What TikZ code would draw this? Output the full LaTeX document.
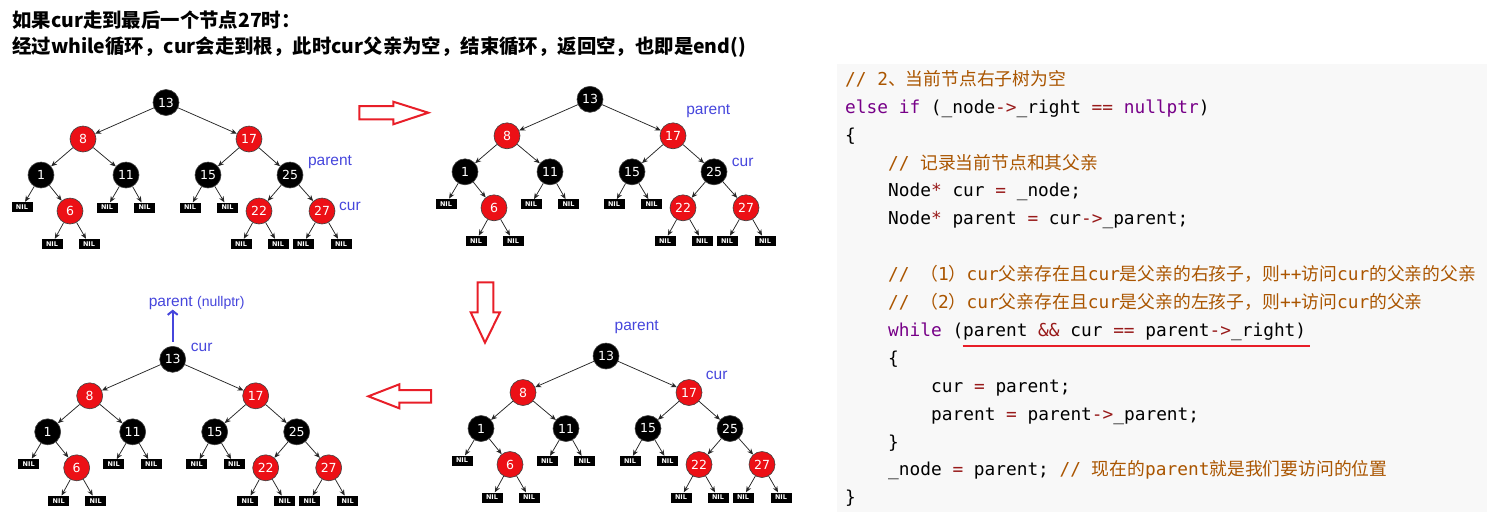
\documentclass[tikz,border=0pt]{standalone}
\usepackage{fontspec}
\usepackage{xcolor}
\usepackage{tikz}
\usetikzlibrary{arrows.meta, positioning}
\setmainfont{DejaVu Sans}
\newfontfamily\cjk{Noto Sans CJK SC}
\newfontfamily\codefont{DejaVu Sans Mono}
\newfontfamily\labfont{Liberation Sans}
\definecolor{rbred}{RGB}{236, 16, 22}
\definecolor{hintblue}{RGB}{70, 70, 220}
\definecolor{arrred}{RGB}{232, 30, 40}
\definecolor{codebg}{RGB}{248, 248, 248}
\definecolor{cmtc}{RGB}{170, 85, 0}
\definecolor{kwc}{RGB}{119, 0, 136}
\definecolor{opc}{RGB}{152, 26, 26}
\newcommand{\zh}[1]{{\cjk #1}}
\newcommand{\kw}[1]{\textcolor{kwc}{#1}}
\newcommand{\op}[1]{\textcolor{opc}{#1}}
\newcommand{\cm}[1]{\textcolor{cmtc}{#1}}

% one red-black tree, root at (#2,#3), node names prefixed by #1
\newcommand{\rbtree}[3]{%
  \begin{scope}[shift={(#2,#3)}]
    \node[bnode]  (#1n13) at (0,0)          {13};
    \node[rnode]  (#1n8)  at (-83,36.5)     {8};
    \node[rnode]  (#1n17) at (83,36.5)      {17};
    \node[bnode]  (#1n1)  at (-125,72.5)    {1};
    \node[bnode]  (#1n11) at (-40,72.5)     {11};
    \node[bnode]  (#1n15) at (42,72.5)      {15};
    \node[bnode]  (#1n25) at (124,72.5)     {25};
    \node[nilbox] (#1l1)  at (-144,104.5)   {NIL};
    \node[rnode]  (#1n6)  at (-96,108.5)    {6};
    \node[nilbox] (#1l11) at (-59,105)      {NIL};
    \node[nilbox] (#1r11) at (-21.5,105)    {NIL};
    \node[nilbox] (#1l15) at (24,105)       {NIL};
    \node[nilbox] (#1r15) at (61.5,105)     {NIL};
    \node[rnode]  (#1n22) at (93,108.5)     {22};
    \node[rnode]  (#1n27) at (156,108.5)    {27};
    \node[nilbox] (#1l6)  at (-114,141.5)   {NIL};
    \node[nilbox] (#1r6)  at (-77,141.5)    {NIL};
    \node[nilbox] (#1l22) at (75,141.5)     {NIL};
    \node[nilbox] (#1r22) at (112,141.5)    {NIL};
    \node[nilbox] (#1l27) at (137,141.5)    {NIL};
    \node[nilbox] (#1r27) at (175,141.5)    {NIL};
    \foreach \p/\c in {n13/n8, n13/n17, n8/n1, n8/n11, n17/n15, n17/n25,
        n1/l1, n1/n6, n11/l11, n11/r11, n15/l15, n15/r15, n25/n22, n25/n27,
        n6/l6, n6/r6, n22/l22, n22/r22, n27/l27, n27/r27}
      \draw[tlink] (#1\p) -- (#1\c);
  \end{scope}}

\begin{document}
\begin{tikzpicture}[
    x=1pt, y=-1pt,
    bnode/.style={circle, fill=black, draw=black!75, line width=0.6pt,
                  minimum size=26pt, inner sep=0pt, text=white,
                  font=\fontsize{12.5}{12.5}\selectfont},
    rnode/.style={bnode, fill=rbred},
    nilbox/.style={rectangle, fill=black, minimum width=21pt,
                   minimum height=10pt, inner sep=0pt, text=white,
                   font=\bfseries\fontsize{6.5}{6.5}\selectfont},
    tlink/.style={-{Stealth[length=6pt, width=5pt]}, black!85, line width=0.75pt},
    hint/.style={inner sep=0pt, text=hintblue,
                 font=\labfont\fontsize{15.5}{16}\selectfont},
    uparr/.style={-{Straight Barb[length=4pt, width=10pt]}, hintblue, line width=2pt},
    bigarrow/.style={draw=arrred, line width=2pt, line join=miter},
    titl/.style={anchor=base west, inner sep=0pt,
                 font=\cjk\bfseries\fontsize{19.4}{24}\selectfont},
    codeln/.style={anchor=base west, inner sep=0pt,
                   font=\codefont\fontsize{17.8}{20}\selectfont\frenchspacing}
]
\useasboundingbox (0,0) rectangle (1487,520);

% title
\node[titl] (head1) at (12,27.4) {如果cur走到最后一个节点27时：};
\node[titl] (head2) at (12,53.4) {经过while循环，cur会走到根，此时cur父亲为空，结束循环，返回空，也即是end()};

% the four trees
\rbtree{t1}{166}{102.5}
\rbtree{t2}{590}{99.3}
\rbtree{t3}{172.7}{359.3}
\rbtree{t4}{606}{356}

\node[hint] (par1) at (330,161.7)   {parent};
\node[hint] (cur1) at (350,206)     {cur};
\node[hint] (par2) at (708.3,111)   {parent};
\node[hint] (cur2) at (742.7,162.3) {cur};
\node[hint] (par3) at (196.7,302.7) {parent {\fontsize{14}{14}\selectfont(nullptr)}};
\node[hint] (cur3) at (201.7,347.7) {cur};
\node[hint] (par4) at (636.7,326.7) {parent};
\node[hint] (cur4) at (716.7,375)   {cur};
\draw[uparr] ([yshift=4.5pt]t3n13.north) -- (t3n13.north |- par3.south);

% hollow red arrows between the steps
\draw[bigarrow] (359.3,106) -- (393.3,106) -- (393.3,101.7) -- (428.3,112.7)
    -- (393.3,124.3) -- (393.3,119.3) -- (359.3,119.3) -- cycle;
\draw[bigarrow] (477.7,282.3) -- (493.3,282.3) -- (493.3,312.3) -- (500,312.3)
    -- (485,342.7) -- (470.7,312.3) -- (477.7,312.3) -- cycle;
\draw[bigarrow] (431,390) -- (399.3,390) -- (399.3,384.3) -- (368.3,396.3)
    -- (399.3,408.3) -- (399.3,402.7) -- (431,402.7) -- cycle;

% code panel
\fill[codebg] (837,64) rectangle (1487,512);
\node[codeln] (ln0)  at (845,85.3)  {\cm{// 2\zh{、当前节点右子树为空}}};
\node[codeln] (ln1)  at (845,113.2) {\kw{else} \kw{if} (\_node\op{->}\_right \op{==} \kw{nullptr})};
\node[codeln] (ln2)  at (845,141.1) {\{};
\node[codeln] (ln3)  at (888,169)   {\cm{// \zh{记录当前节点和其父亲}}};
\node[codeln] (ln4)  at (888,196.9) {Node\op{*} cur \op{=} \_node;};
\node[codeln] (ln5)  at (888,224.8) {Node\op{*} parent \op{=} cur\op{->}\_parent;};
\node[codeln] (ln7)  at (888,280.6) {\cm{// \zh{（}1\zh{）}cur\zh{父亲存在且}cur\zh{是父亲的右孩子，则}++\zh{访问}cur\zh{的父亲的父亲}}};
\node[codeln] (ln8)  at (888,308.5) {\cm{// \zh{（}2\zh{）}cur\zh{父亲存在且}cur\zh{是父亲的左孩子，则}++\zh{访问}cur\zh{的父亲}}};
\node[codeln] (ln9)  at (888,336.4) {\kw{while} (parent \op{\&\&} cur \op{==} parent\op{->}\_right)};
\node[codeln] (ln10) at (888,364.3) {\{};
\node[codeln] (ln11) at (931,392.2) {cur \op{=} parent;};
\node[codeln] (ln12) at (931,420.1) {parent \op{=} parent\op{->}\_parent;};
\node[codeln] (ln13) at (888,448)   {\}};
\node[codeln] (ln14) at (888,475.9) {\_node \op{=} parent; \cm{// \zh{现在的}parent\zh{就是我们要访问的位置}}};
\node[codeln] (ln15) at (845,503.8) {\}};
\draw[arrred, line width=2pt] (962.7,346) -- (1310,346);
\end{tikzpicture}
\end{document}
